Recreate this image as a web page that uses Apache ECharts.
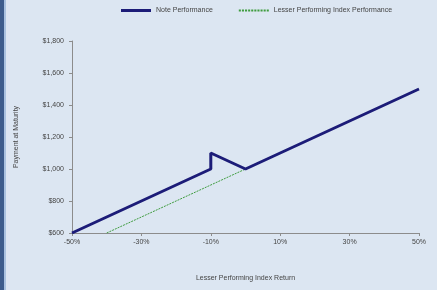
<!DOCTYPE html>
<html>
<head>
<meta charset="utf-8">
<script src="https://cdn.jsdelivr.net/npm/echarts@6/dist/echarts.min.js"></script>
<style>
    html, body { margin: 0; padding: 0; background: #dce6f2; }
    #chart { width: 437px; height: 290px; }
</style>
</head>
<body>
<div id="chart"></div>
<script>
    // payoff data
    var noteReturn = [-50, -10, -10, 0, 50];
    var notePayment = [600, 1000, 1100, 1000, 1500];
    var indexReturn = [-40, 0, 50];
    var indexPayment = [600, 1000, 1500];

    var yTicks = [600, 800, 1000, 1200, 1400, 1600, 1800];

    function pairs(xs, ys) {
        return xs.map(function (x, i) { return [x, ys[i]]; });
    }

    // dotted legend icon for the index line
    var dots = '';
    for (var d = 0; d < 30; d += 3) {
        dots += 'M' + d + ',4 L' + (d + 2) + ',4 L' + (d + 2) + ',6 L' + d + ',6 Z ';
    }

    var myChart = echarts.init(document.getElementById('chart'));
    var font = 'Liberation Sans, Arial, sans-serif';
    var option = {
        backgroundColor: '#dce6f2',
        animation: false,
        graphic: [
            { type: 'rect', left: 0, top: 0, shape: { width: 4, height: 290 }, style: { fill: '#3d5c8c' } },
            { type: 'rect', left: 4, top: 0, shape: { width: 2, height: 290 }, style: { fill: '#a9c1df' } }
        ],
        legend: {
            top: 2,
            left: 116,
            itemWidth: 30,
            itemHeight: 10,
            itemGap: 26,
            textStyle: { fontSize: 7, color: '#444', fontFamily: font },
            data: [
                { name: 'Note Performance', icon: 'path://M0,3.5 L30,3.5 L30,6.5 L0,6.5 Z', itemStyle: { color: '#1c1c78' } },
                { name: 'Lesser Performing Index Performance', icon: 'path://' + dots, itemStyle: { color: '#3f9c3f' } }
            ]
        },
        grid: { left: 72, right: 18, top: 41, bottom: 57 },
        xAxis: {
            type: 'value',
            min: -50,
            max: 50,
            interval: 20,
            name: 'Lesser Performing Index Return',
            nameLocation: 'middle',
            nameGap: 42,
            nameTextStyle: { fontSize: 7, color: '#444', fontFamily: font },
            axisLine: { onZero: false, lineStyle: { color: '#8c8c8c' } },
            axisTick: { show: true, length: 3, inside: false, lineStyle: { color: '#8c8c8c' } },
            axisLabel: { fontSize: 7, color: '#444', fontFamily: font, margin: 6, formatter: '{value}%' },
            splitLine: { show: false }
        },
        yAxis: {
            type: 'value',
            min: yTicks[0],
            max: yTicks[yTicks.length - 1],
            interval: 200,
            name: 'Payment at Maturity',
            nameLocation: 'middle',
            nameGap: 52,
            nameTextStyle: { fontSize: 7, color: '#444', fontFamily: font },
            axisLine: { show: true, onZero: false, lineStyle: { color: '#8c8c8c' } },
            axisTick: { show: true, length: 3, lineStyle: { color: '#8c8c8c' } },
            axisLabel: {
                fontSize: 7, color: '#444', fontFamily: font, margin: 8,
                formatter: function (v) { return '$' + v.toLocaleString('en-US'); }
            },
            splitLine: { show: false }
        },
        series: [
            {
                name: 'Lesser Performing Index Performance',
                type: 'line',
                data: pairs(indexReturn, indexPayment),
                symbol: 'none',
                itemStyle: { color: '#3f9c3f' },
                lineStyle: { color: '#3f9c3f', width: 1, type: [2, 1] }
            },
            {
                name: 'Note Performance',
                type: 'line',
                data: pairs(noteReturn, notePayment),
                symbol: 'none',
                itemStyle: { color: '#1c1c78' },
                lineStyle: { color: '#1c1c78', width: 3 }
            }
        ]
    };
    myChart.setOption(option);
</script>
</body>
</html>
